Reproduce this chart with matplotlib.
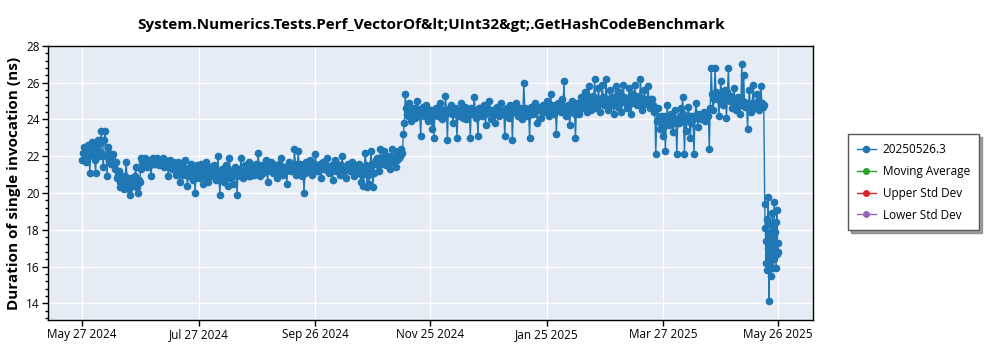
import matplotlib
matplotlib.use("Agg")
import matplotlib.pyplot as plt
import matplotlib.dates as mdates
from matplotlib.ticker import MultipleLocator
import pandas as pd

TITLE = "System.Numerics.Tests.Perf_VectorOf&lt;UInt32&gt;.GetHashCodeBenchmark"
Y_LABEL = "Duration of single invocation (ns)"
SERIES_NAMES = ["20250526.3", "Moving Average", "Upper Std Dev", "Lower Std Dev"]
SERIES_COLORS = ["#1f77b4", "#2ca02c", "#d62728", "#9467bd"]

# Morning runs, one per day, 2024-05-27 .. 2025-05-18 (ns)
morning_values = [
    21.8, 22.5, 21.7, 22.6, 21.1, 22.8, 22.3, 21.1, 22.9, 22.0,
    23.4, 21.4, 23.4, 20.9, 22.2, 21.6, 22.1, 21.3, 20.8, 21.2,
    20.3, 20.9, 20.2, 21.7, 20.5, 19.9, 20.8, 20.4, 21.4, 20.0,
    20.6, 21.9, 21.6, 21.9, 21.4, 21.8, 20.9, 21.9, 21.6, 21.9,
    21.5, 21.8, 21.9, 21.4, 21.7, 20.9, 21.8, 21.3, 21.6, 21.0,
    21.7, 20.6, 21.5, 21.1, 21.8, 20.4, 21.3, 21.6, 20.7, 20.0,
    21.5, 20.8, 21.6, 20.5, 21.2, 21.7, 20.6, 21.4, 20.9, 21.5,
    20.7, 22.0, 19.9, 21.3, 20.6, 21.5, 20.4, 21.9, 21.0, 20.5,
    21.4, 19.9, 21.2, 21.9, 20.8, 21.5, 21.1, 21.7, 20.9, 21.4,
    21.0, 21.6, 22.2, 20.9, 21.5, 21.2, 21.8, 20.6, 21.4, 21.7,
    21.1, 21.5, 20.8, 21.6, 21.9, 21.0, 21.4, 20.5, 21.7, 21.2,
    21.5, 22.4, 21.0, 22.3, 21.6, 20.9, 20.0, 21.7, 21.3, 21.8,
    21.0, 21.6, 22.1, 21.2, 21.5, 20.8, 21.7, 21.3, 21.9, 21.1,
    21.4, 20.7, 21.8, 21.2, 21.5, 21.0, 22.0, 21.3, 20.8, 21.6,
    21.2, 21.7, 20.9, 21.4, 21.1, 21.6, 20.6, 20.4, 22.2, 20.3,
    20.5, 22.3, 20.3, 21.6, 21.9, 21.2, 22.4, 21.6, 22.3, 21.5,
    22.0, 21.3, 22.4, 21.8, 21.4, 22.3, 22.0, 22.4, 23.2,
    25.4, 24.3, 24.9, 23.9, 24.6, 24.1, 25.0, 24.4, 23.1, 24.7, 24.2,
    24.8, 23.9, 24.5, 23.5, 23.0, 24.6, 24.2, 24.9, 24.0, 24.5,
    25.3, 22.9, 24.4, 24.8, 23.8, 24.6, 23.0, 24.3, 24.9, 24.1,
    24.7, 24.0, 24.5, 23.0, 24.3, 25.2, 24.1, 23.1, 24.6, 24.2,
    24.8, 23.7, 24.4, 25.0, 24.0, 24.5, 23.8, 24.7, 24.2, 24.9,
    24.3, 23.1, 24.6, 24.1, 24.8, 22.9, 24.4, 24.9, 24.2, 24.6,
    24.0, 26.0, 24.5, 24.2, 23.0, 24.7, 24.3, 24.9, 23.8, 24.5,
    24.1, 24.8, 24.4, 25.0, 24.2, 25.4, 24.6, 24.3, 23.2, 24.9,
    24.5, 25.1, 26.1, 24.2, 24.8, 23.7, 25.0, 24.4, 23.0, 24.9,
    24.3, 25.2, 24.6, 25.5, 24.4, 25.8, 24.5, 25.3, 26.2, 24.6,
    25.7, 24.4, 25.9, 24.8, 26.2, 24.5, 25.6, 25.0, 24.3, 25.8,
    24.7, 25.5, 24.4, 25.9, 25.1, 24.6, 25.7, 24.3, 25.4, 25.9,
    24.8, 25.3, 26.2, 24.5, 25.6, 24.9, 25.8, 24.6, 25.1, 24.4,
    22.1, 24.6, 23.5, 24.2, 23.1, 22.3, 24.8, 23.7, 24.3, 23.3,
    24.5, 22.1, 23.8, 24.6, 25.2, 22.1, 23.4, 24.7, 23.0, 24.2,
    22.1, 24.9, 23.6, 24.3, 24.1, 24.4, 23.9, 24.2,
    22.4, 26.8, 24.5, 26.8, 25.3, 24.2, 26.1, 24.8, 25.6, 24.1, 26.8, 25.0, 24.6,
    25.7, 24.5, 25.2, 24.3, 27.0, 26.4, 24.8, 23.5, 25.6, 24.4, 25.9, 24.6,
    25.4, 24.5, 25.8, 24.7,
]

# Evening runs, one per day, 2024-05-27 .. 2025-05-18 (ns)
evening_values = [
    22.2, 21.9, 22.4, 22.0, 22.5, 22.1, 21.8, 22.6, 22.3, 22.7,
    22.1, 22.9, 22.0, 22.5, 21.8, 22.0, 21.5, 21.7, 21.0, 20.6,
    20.7, 20.4, 20.9, 20.6, 20.2, 20.8, 20.5, 20.9, 20.3, 20.7,
    21.3, 21.7, 21.8, 21.6, 21.7, 21.5, 21.8, 21.6, 21.7, 21.8,
    21.7, 21.6, 21.5, 21.8, 21.6, 21.5, 21.6, 21.7, 21.4, 21.5,
    21.1, 21.4, 21.0, 21.3, 21.2, 20.9, 21.4, 21.1, 21.3, 21.0,
    21.1, 21.2, 20.9, 21.0, 21.3, 20.8, 21.2, 21.0, 21.3, 21.1,
    21.2, 20.8, 21.0, 21.1, 20.9, 21.0, 21.3, 20.8, 21.2, 20.9,
    21.0, 21.3, 20.9, 21.1, 21.2, 21.0, 20.9, 21.2, 21.3, 21.1,
    21.4, 21.2, 21.5, 21.3, 21.1, 21.4, 21.2, 21.5, 21.3, 21.2,
    21.4, 21.3, 21.2, 21.5, 21.3, 21.4, 21.2, 21.3, 21.5, 21.4,
    21.3, 21.6, 21.4, 21.2, 21.5, 21.3, 21.1, 21.4, 21.2, 21.5,
    21.3, 21.5, 21.4, 21.2, 21.6, 21.4, 21.3, 21.5, 21.2, 21.4,
    21.5, 21.3, 21.4, 21.6, 21.3, 21.5, 21.2, 21.4, 21.3, 21.5,
    21.4, 21.3, 21.5, 21.2, 21.4, 21.3, 21.0, 21.2, 21.5, 21.0,
    21.3, 21.6, 21.1, 21.8, 21.5, 21.7, 21.9, 21.8, 21.7, 21.9,
    21.8, 21.9, 21.7, 22.0, 21.8, 21.9, 22.1, 22.2, 23.8,
    24.6, 24.2, 24.5, 24.3, 24.4, 24.6, 24.2, 24.5, 24.3, 24.4, 24.6,
    24.4, 24.3, 24.5, 24.2, 24.4, 24.3, 24.6, 24.4, 24.5, 24.3,
    24.5, 24.4, 24.6, 24.3, 24.5, 24.4, 24.2, 24.5, 24.6, 24.4,
    24.4, 24.5, 24.3, 24.6, 24.4, 24.5, 24.3, 24.6, 24.4, 24.5,
    24.3, 24.6, 24.4, 24.5, 24.3, 24.4, 24.6, 24.5, 24.3, 24.4,
    24.5, 24.4, 24.6, 24.3, 24.5, 24.4, 24.6, 24.5, 24.4, 24.3,
    24.5, 24.6, 24.4, 24.3, 24.5, 24.6, 24.4, 24.5, 24.7, 24.6,
    24.5, 24.7, 24.6, 24.4, 24.6, 24.8, 24.5, 24.7, 24.6, 24.5,
    24.4, 24.6, 24.5, 24.3, 24.5, 24.4, 24.6, 24.3, 24.5, 24.4,
    24.8, 24.9, 25.1, 24.8, 25.0, 25.2, 24.9, 25.1, 25.0, 24.9,
    25.1, 25.0, 25.2, 24.9, 25.1, 25.0, 24.8, 25.2, 25.0, 25.1,
    25.0, 24.9, 25.1, 25.2, 24.9, 25.0, 25.1, 24.9, 25.0, 25.2,
    25.1, 24.9, 25.0, 24.8, 25.1, 25.0, 24.9, 25.1, 24.8, 24.5,
    23.9, 24.1, 23.8, 24.0, 24.2, 23.7, 24.0, 23.9, 24.1, 23.8,
    24.0, 23.8, 24.2, 24.0, 24.3, 23.9, 24.1, 24.2, 23.8, 24.0,
    24.1, 24.3, 24.2, 24.0, 24.2, 24.1, 24.3, 24.2,
    24.6, 25.4, 25.1, 25.5, 25.2, 25.0, 25.4, 25.3, 25.1, 25.5, 25.2, 25.3, 25.0,
    24.9, 24.7, 24.9, 24.8, 25.0, 24.7, 24.9, 24.8, 24.6, 24.9, 24.8, 24.7,
    25.0, 24.8, 24.9, 24.8,
]

# Six-hourly runs, 2025-05-19 .. 2025-05-26 (ns)
recent_values = [
    19.4, 18.1, 17.4, 16.2, 18.6, 15.8, 17.0, 19.8, 16.5, 14.1,
    17.8, 16.0, 18.3, 15.5, 17.2, 16.8, 18.9, 15.9, 17.6, 16.4,
    19.5, 16.9, 17.9, 15.9, 18.4, 16.7, 19.1, 17.3, 16.8,
]

# Statistic series (no samples in this run)
moving_average = []
upper_std_dev = []
lower_std_dev = []

x_tick_dates = ["2024-05-27", "2024-07-27", "2024-09-26", "2024-11-25",
                "2025-01-25", "2025-03-27", "2025-05-26"]

assert len(morning_values) == len(evening_values)

frames = [
    pd.DataFrame({"date": pd.date_range("2024-05-27 00:00", periods=len(morning_values), freq="D"),
                  "ns": morning_values}),
    pd.DataFrame({"date": pd.date_range("2024-05-27 12:00", periods=len(evening_values), freq="D"),
                  "ns": evening_values}),
    pd.DataFrame({"date": pd.date_range("2025-05-19 00:00", periods=len(recent_values), freq="6h"),
                  "ns": recent_values}),
]
runs = pd.concat(frames).sort_values("date")

plt.rcParams["font.family"] = ["Open Sans", "DejaVu Sans"]

fig = plt.figure(figsize=(10, 3.5), dpi=100)
ax = fig.add_axes([0.0483, 0.0857, 0.7647, 0.783])
ax.set_facecolor("#e5ecf6")

ax.plot(runs["date"], runs["ns"], color=SERIES_COLORS[0], marker="o", markersize=4.5,
        linewidth=1, label=SERIES_NAMES[0], zorder=3)
ax.plot(moving_average, moving_average, color=SERIES_COLORS[1], marker="o",
        markersize=4, linewidth=1, label=SERIES_NAMES[1])
ax.plot(upper_std_dev, upper_std_dev, color=SERIES_COLORS[2], marker="o",
        markersize=4, linewidth=1, label=SERIES_NAMES[2])
ax.plot(lower_std_dev, lower_std_dev, color=SERIES_COLORS[3], marker="o",
        markersize=4, linewidth=1, label=SERIES_NAMES[3])

ax.set_xlim(pd.Timestamp("2024-05-09 06:00"), pd.Timestamp("2025-06-13 06:00"))
ax.set_ylim(13.09, 28)

ax.set_xticks([pd.Timestamp(d) for d in x_tick_dates])
ax.xaxis.set_major_formatter(mdates.DateFormatter("%b %d %Y"))
ax.yaxis.set_major_locator(MultipleLocator(2))
ax.yaxis.set_minor_locator(MultipleLocator(0.4))

ax.grid(True, which="major", color="white", linewidth=1, zorder=0)
ax.set_axisbelow(True)
ax.tick_params(axis="both", which="major", labelsize=8.5, length=4, width=1,
               color="black", pad=2)
ax.tick_params(axis="y", which="minor", length=2.5, width=1, color="black")
for spine in ax.spines.values():
    spine.set_color("black")
    spine.set_linewidth(1)

ax.set_ylabel(Y_LABEL, fontsize=11, fontweight="bold", labelpad=4)
ax.set_title(TITLE, fontsize=11, fontweight="bold", pad=12)

leg = fig.legend(loc="center left", bbox_to_anchor=(0.848, 0.479),
                 borderaxespad=0, fontsize=8.5, frameon=True, fancybox=False,
                 shadow=True, edgecolor="#555555", framealpha=1,
                 handlelength=1.6, handletextpad=0.6, borderpad=0.75,
                 labelspacing=0.75)
leg.get_frame().set_linewidth(1)

fig.savefig("out.png", dpi=100)
